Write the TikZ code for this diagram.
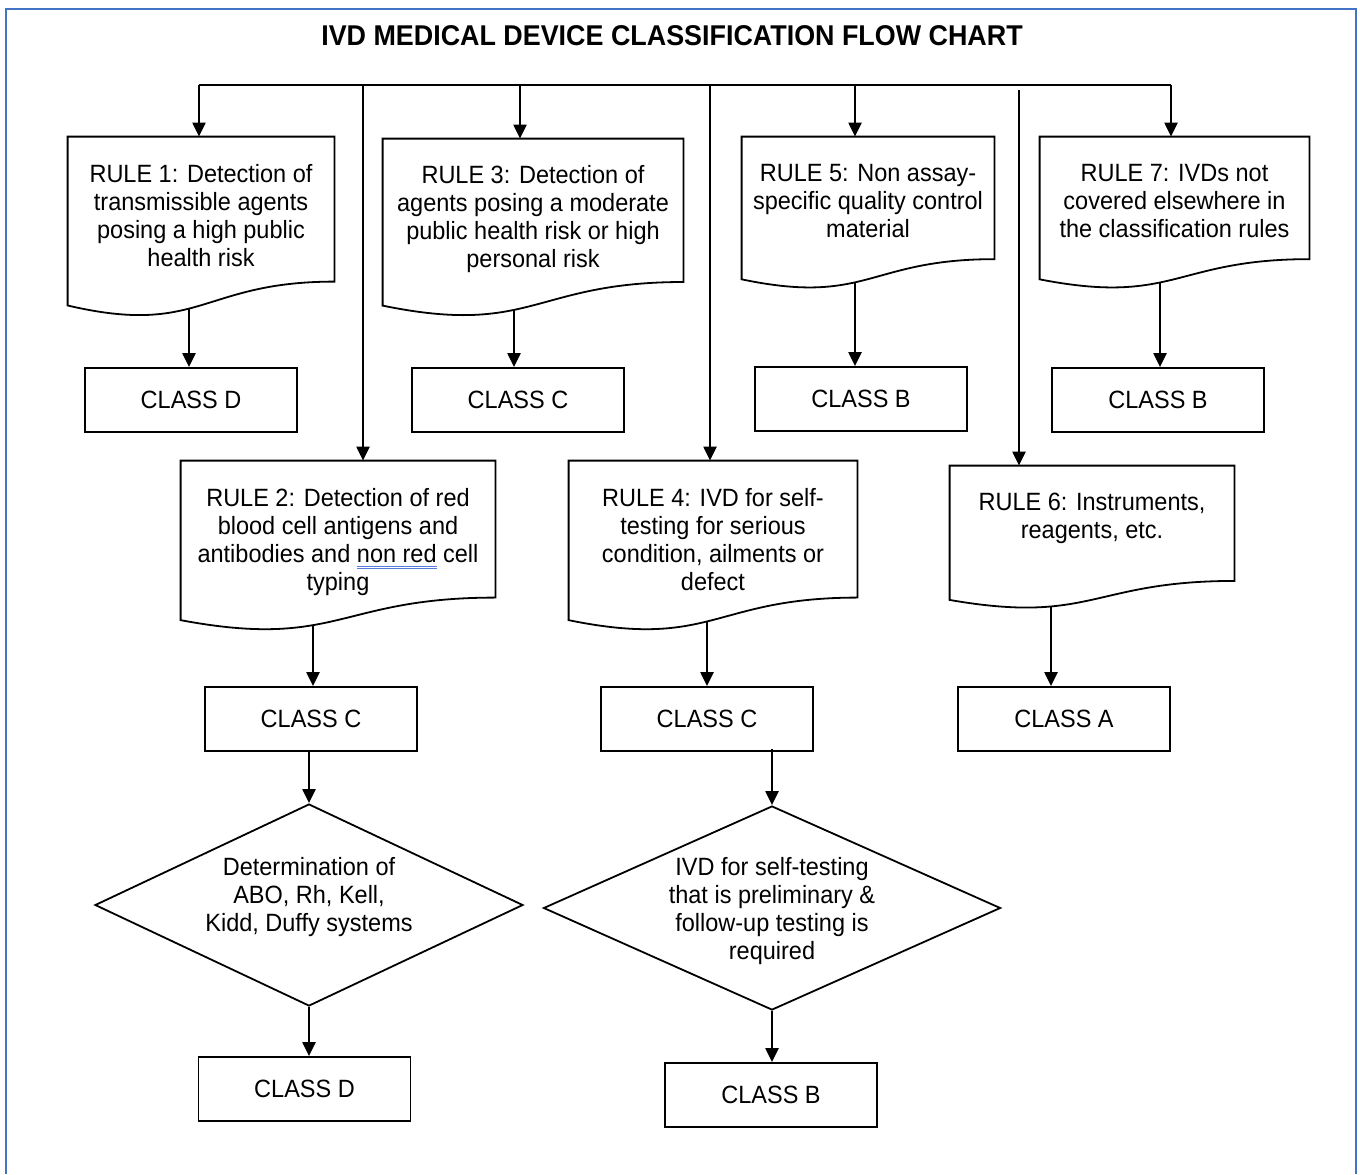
\documentclass[tikz,border=0pt]{standalone}
\usepackage{fontspec}
\setmainfont[FakeStretch=0.94]{Liberation Sans}
\usetikzlibrary{shapes.geometric,arrows.meta,calc}
\definecolor{frameblue}{RGB}{68,114,196}
\definecolor{spellblue}{RGB}{86,124,214}
% blue spell-check underline
\newcommand\spellmark[1]{\setbox0\hbox{#1}\rlap{\color{spellblue}\rule[-2.4pt]{\wd0}{0.5pt}\llap{\rule[-3.4pt]{\wd0}{0.5pt}}}#1}
\tikzset{rulebox/.style 2 args={minimum width=#1, minimum height=#2, align=center, text depth=12pt}}
\tikzset{decision/.style 2 args={draw, diamond, line width=0.9pt, minimum width=#1, minimum height=#2, align=center}}

\begin{document}
\begin{tikzpicture}[x=0.5pt,y=-0.5pt]
		\tikzset{every node/.style={font=\fontsize{12.5}{14}\selectfont, inner sep=0pt}}
		\tikzset{classbox/.style={draw, line width=0.9pt, minimum width=106pt, minimum height=32pt}}
		\tikzset{arr/.style={-{Triangle[length=7pt,width=6.5pt]}, line width=1.1pt}}
		\useasboundingbox (0,0) rectangle (1360,1174);
		\draw[frameblue, line width=1.2pt] (6,1174) -- (6,9) -- (1356,9) -- (1356,1174);
		\node[font=\fontsize{14.3}{16}\bfseries] (title) at (672,36) {IVD MEDICAL DEVICE CLASSIFICATION FLOW CHART};
		% rules
		\node[rulebox={133pt}{90pt}] (rule1) at (201,227) {RULE 1: Detection of\\transmissible agents\\posing a high public\\health risk};
		\node[rulebox={150pt}{89pt}] (rule3) at (533,228) {RULE 3: Detection of\\agents posing a moderate\\public health risk or high\\personal risk};
		\node[rulebox={126pt}{76pt}] (rule5) at (868,213) {RULE 5: Non assay-\\specific quality control\\material};
		\node[rulebox={134.5pt}{76pt}] (rule7) at (1174.5,213) {RULE 7: IVDs not\\covered elsewhere in\\the classification rules};
		\node[rulebox={157pt}{85pt}, text depth=7pt] (rule2) at (338,546) {RULE 2: Detection of red\\blood cell antigens and\\antibodies and \spellmark{non red} cell\\typing};
		\node[rulebox={144pt}{85pt}, text depth=7pt] (rule4) at (713,546) {RULE 4: IVD for self-\\testing for serious\\condition, ailments or\\defect};
		\node[rulebox={142pt}{71.5pt}, text depth=22pt] (rule6) at (1092,537.5) {RULE 6: Instruments,\\reagents, etc.};
		% classes
		\node[classbox] (cls1) at (191,400) {CLASS D};
		\node[classbox] (cls3) at (518,400) {CLASS C};
		\node[classbox] (cls5) at (861,399) {CLASS B};
		\node[classbox] (cls7) at (1158,400) {CLASS B};
		\node[classbox] (cls2) at (311,719) {CLASS C};
		\node[classbox] (cls4) at (707,719) {CLASS C};
		\node[classbox] (cls6) at (1064,719) {CLASS A};
		\node[classbox] (cls8) at (304.5,1089) {CLASS D};
		\node[classbox] (cls9) at (771,1095) {CLASS B};
		% decisions
		\node[decision={214pt}{101pt}, aspect=2.12, text depth=11pt] (dec1) at (309,905) {Determination of\\ABO, Rh, Kell,\\Kidd, Duffy systems};
		\node[decision={228.5pt}{102pt}, aspect=2.24, text depth=0pt] (dec2) at (772,908) {IVD for self-testing\\that is preliminary \&\\follow-up testing is\\required};
		% document outlines
		\foreach \n in {rule1,rule2,rule3,rule4,rule5,rule6,rule7}{
			\draw[line width=0.9pt] (\n.north west) -- (\n.north east) -- ($(\n.north east)!.802!(\n.south east)$)
				.. controls ($(\n.north)!.802!(\n.south)$) and ($(\n.north)!1.107!(\n.south)$) .. ($(\n.north west)!.934!(\n.south west)$) -- cycle;
		}
		% bus
		\coordinate (busL) at (199,85);
		\coordinate (busR) at (1171,85);
		\draw[line width=1pt] (busL) -- (busR);
		\foreach \x/\n in {199/rule1,363/rule2,520/rule3,710/rule4,855/rule5,1171/rule7}{
			\coordinate (tap) at (\x,85);
			\draw[arr] (tap) -- (tap |- \n.north);
		}
		\coordinate (top6) at (1019,90);
		\draw[arr] (top6) -- (top6 |- rule6.north);
		% rule to class
		\foreach \r/\c/\x/\f in {rule1/cls1/189/.95,rule3/cls3/514/.955,rule5/cls5/855/.95,rule7/cls7/1160/.95,rule2/cls2/313/.96,rule4/cls4/707/.94,rule6/cls6/1051/.98}{
			\coordinate (wave) at ($(\r.north)!\f!(\r.south)$);
			\coordinate (drop) at (\x,0);
			\draw[arr] (wave -| drop) -- (drop |- \c.north);
		}
		\draw[arr] (cls2.south -| dec1.north) -- (dec1.north);
		\coordinate (cls4-s) at ($(cls4.south)+(0,-3)$);
		\draw[arr] (cls4-s -| dec2.north) -- (dec2.north);
		\draw[arr] (dec1.south) -- (dec1.south |- cls8.north);
		\draw[arr] (dec2.south) -- (dec2.south |- cls9.north);
\end{tikzpicture}
\end{document}
